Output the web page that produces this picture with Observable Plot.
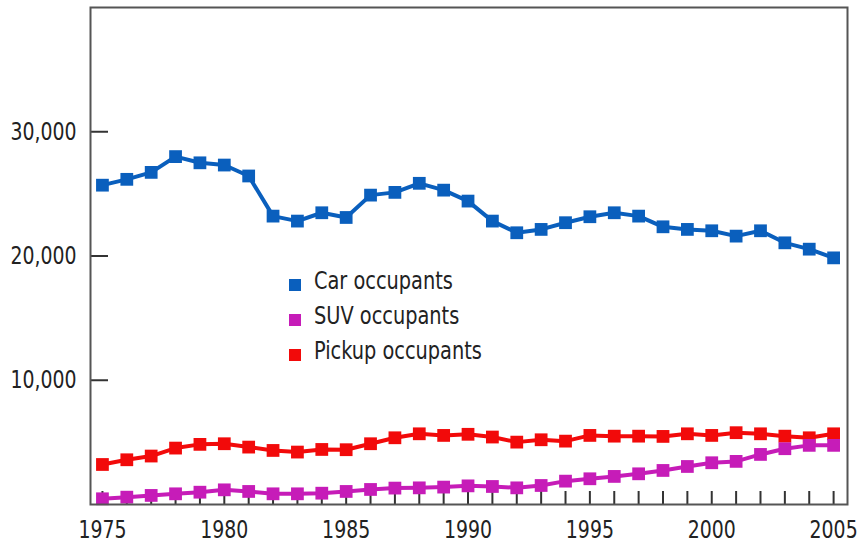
<!DOCTYPE html>
<html>
<head>
<meta charset="utf-8">
<script src="https://cdn.jsdelivr.net/npm/d3@7"></script>
<script src="https://cdn.jsdelivr.net/npm/@observablehq/plot@0.6"></script>
<style>
  html, body { margin: 0; padding: 0; background: #fff; }
  #wrap { position: relative; width: 859px; height: 546px; }
  #legend { position: absolute; left: 0; top: 0; font-family: "Liberation Sans Narrow", "DejaVu Sans Condensed", sans-serif; font-size: 25px; color: #222; }
  .row { position: absolute; white-space: nowrap; transform: scaleX(0.86); transform-origin: left center; }
  .sw { position: absolute; width: 12px; height: 12px; }
</style>
</head>
<body>
<div id="wrap"><div id="legend"></div></div>
<script>
const years = d3.range(1975, 2006);
const seriesNames = ["Car occupants", "SUV occupants", "Pickup occupants"];
const seriesColors = ["#0a5fbd", "#c61cb8", "#f20a0a"];
const carValues = [25700, 26170, 26730, 28000, 27500, 27320, 26440, 23210, 22810, 23480, 23100, 24900, 25120, 25850, 25300, 24420, 22810, 21870, 22140, 22680, 23160, 23480, 23210, 22350, 22140, 22030, 21600, 22030, 21060, 20550, 19850];
const suvValues = [460, 590, 730, 860, 990, 1180, 1050, 860, 860, 910, 1050, 1210, 1320, 1340, 1400, 1500, 1450, 1340, 1530, 1880, 2070, 2260, 2470, 2740, 3060, 3360, 3470, 4030, 4490, 4760, 4760];
const pickupValues = [3220, 3600, 3900, 4540, 4840, 4890, 4620, 4350, 4220, 4430, 4410, 4890, 5370, 5690, 5560, 5650, 5430, 5020, 5210, 5100, 5560, 5500, 5500, 5480, 5690, 5560, 5780, 5690, 5500, 5370, 5690];
const yTicks = [10000, 20000, 30000];
const xLabelTicks = [1975, 1980, 1985, 1990, 1995, 2000, 2005];

const valuesBySeries = [carValues, suvValues, pickupValues];
const drawOrder = [0, 2, 1];

const W = 859, H = 546;
const mL = 90, mR = 12, mT = 7, mB = 42;
const plotW = W - mL - mR, plotH = H - mT - mB;

const marks = [];
for (const i of drawOrder) {
  const data = years.map((yr, k) => ({year: yr, value: valuesBySeries[i][k]}));
  marks.push(Plot.line(data, {x: "year", y: "value", stroke: seriesColors[i], strokeWidth: 4, curve: "linear"}));
  marks.push(Plot.dot(data, {x: "year", y: "value", symbol: "square", r: 7.2, fill: seriesColors[i], stroke: "none"}));
}

const chart = Plot.plot({
  width: W, height: H,
  marginLeft: mL, marginRight: mR, marginTop: mT, marginBottom: mB,
  style: {fontFamily: '"Liberation Sans Narrow", "DejaVu Sans Condensed", sans-serif', fontSize: "25px", color: "#222", background: "#fff"},
  x: {domain: [1974.51, 2005.57], label: null},
  y: {domain: [0, 40000], label: null},
  marks: [
    Plot.ruleX(years, {x: d => d, stroke: "#333", strokeWidth: 2, insetTop: plotH - 13}),
    Plot.ruleY(yTicks, {y: d => d, stroke: "#333", strokeWidth: 2, insetRight: plotW - 18}),
    Plot.axisX({ticks: xLabelTicks, tickSize: 0, tickPadding: 16, tickFormat: d => String(d), fill: "#222", label: null}),
    Plot.axisY({ticks: yTicks, tickSize: 0, tickPadding: 14, tickFormat: d3.format(","), fill: "#222", label: null}),
    ...marks,
    Plot.frame({stroke: "#555", strokeWidth: 2})
  ]
});
document.getElementById("wrap").prepend(chart);

// condense axis label glyphs to mimic the narrow typeface of the original
chart.querySelectorAll("g[aria-label$='tick label'] text").forEach(t => {
  const len = t.getComputedTextLength();
  t.setAttribute("textLength", (len * 0.84).toFixed(1));
  t.setAttribute("lengthAdjust", "spacingAndGlyphs");
});

const legend = document.getElementById("legend");
const baselines = [289, 324, 359];
seriesNames.forEach((name, i) => {
  const sw = document.createElement("div");
  sw.className = "sw";
  sw.style.left = "289px";
  sw.style.top = (baselines[i] - 10) + "px";
  sw.style.background = seriesColors[i];
  legend.appendChild(sw);
  const row = document.createElement("div");
  row.className = "row";
  row.style.left = "314px";
  row.style.top = (baselines[i] - 26) + "px";
  row.style.lineHeight = "35px";
  row.textContent = name;
  legend.appendChild(row);
});
</script>
</body>
</html>
